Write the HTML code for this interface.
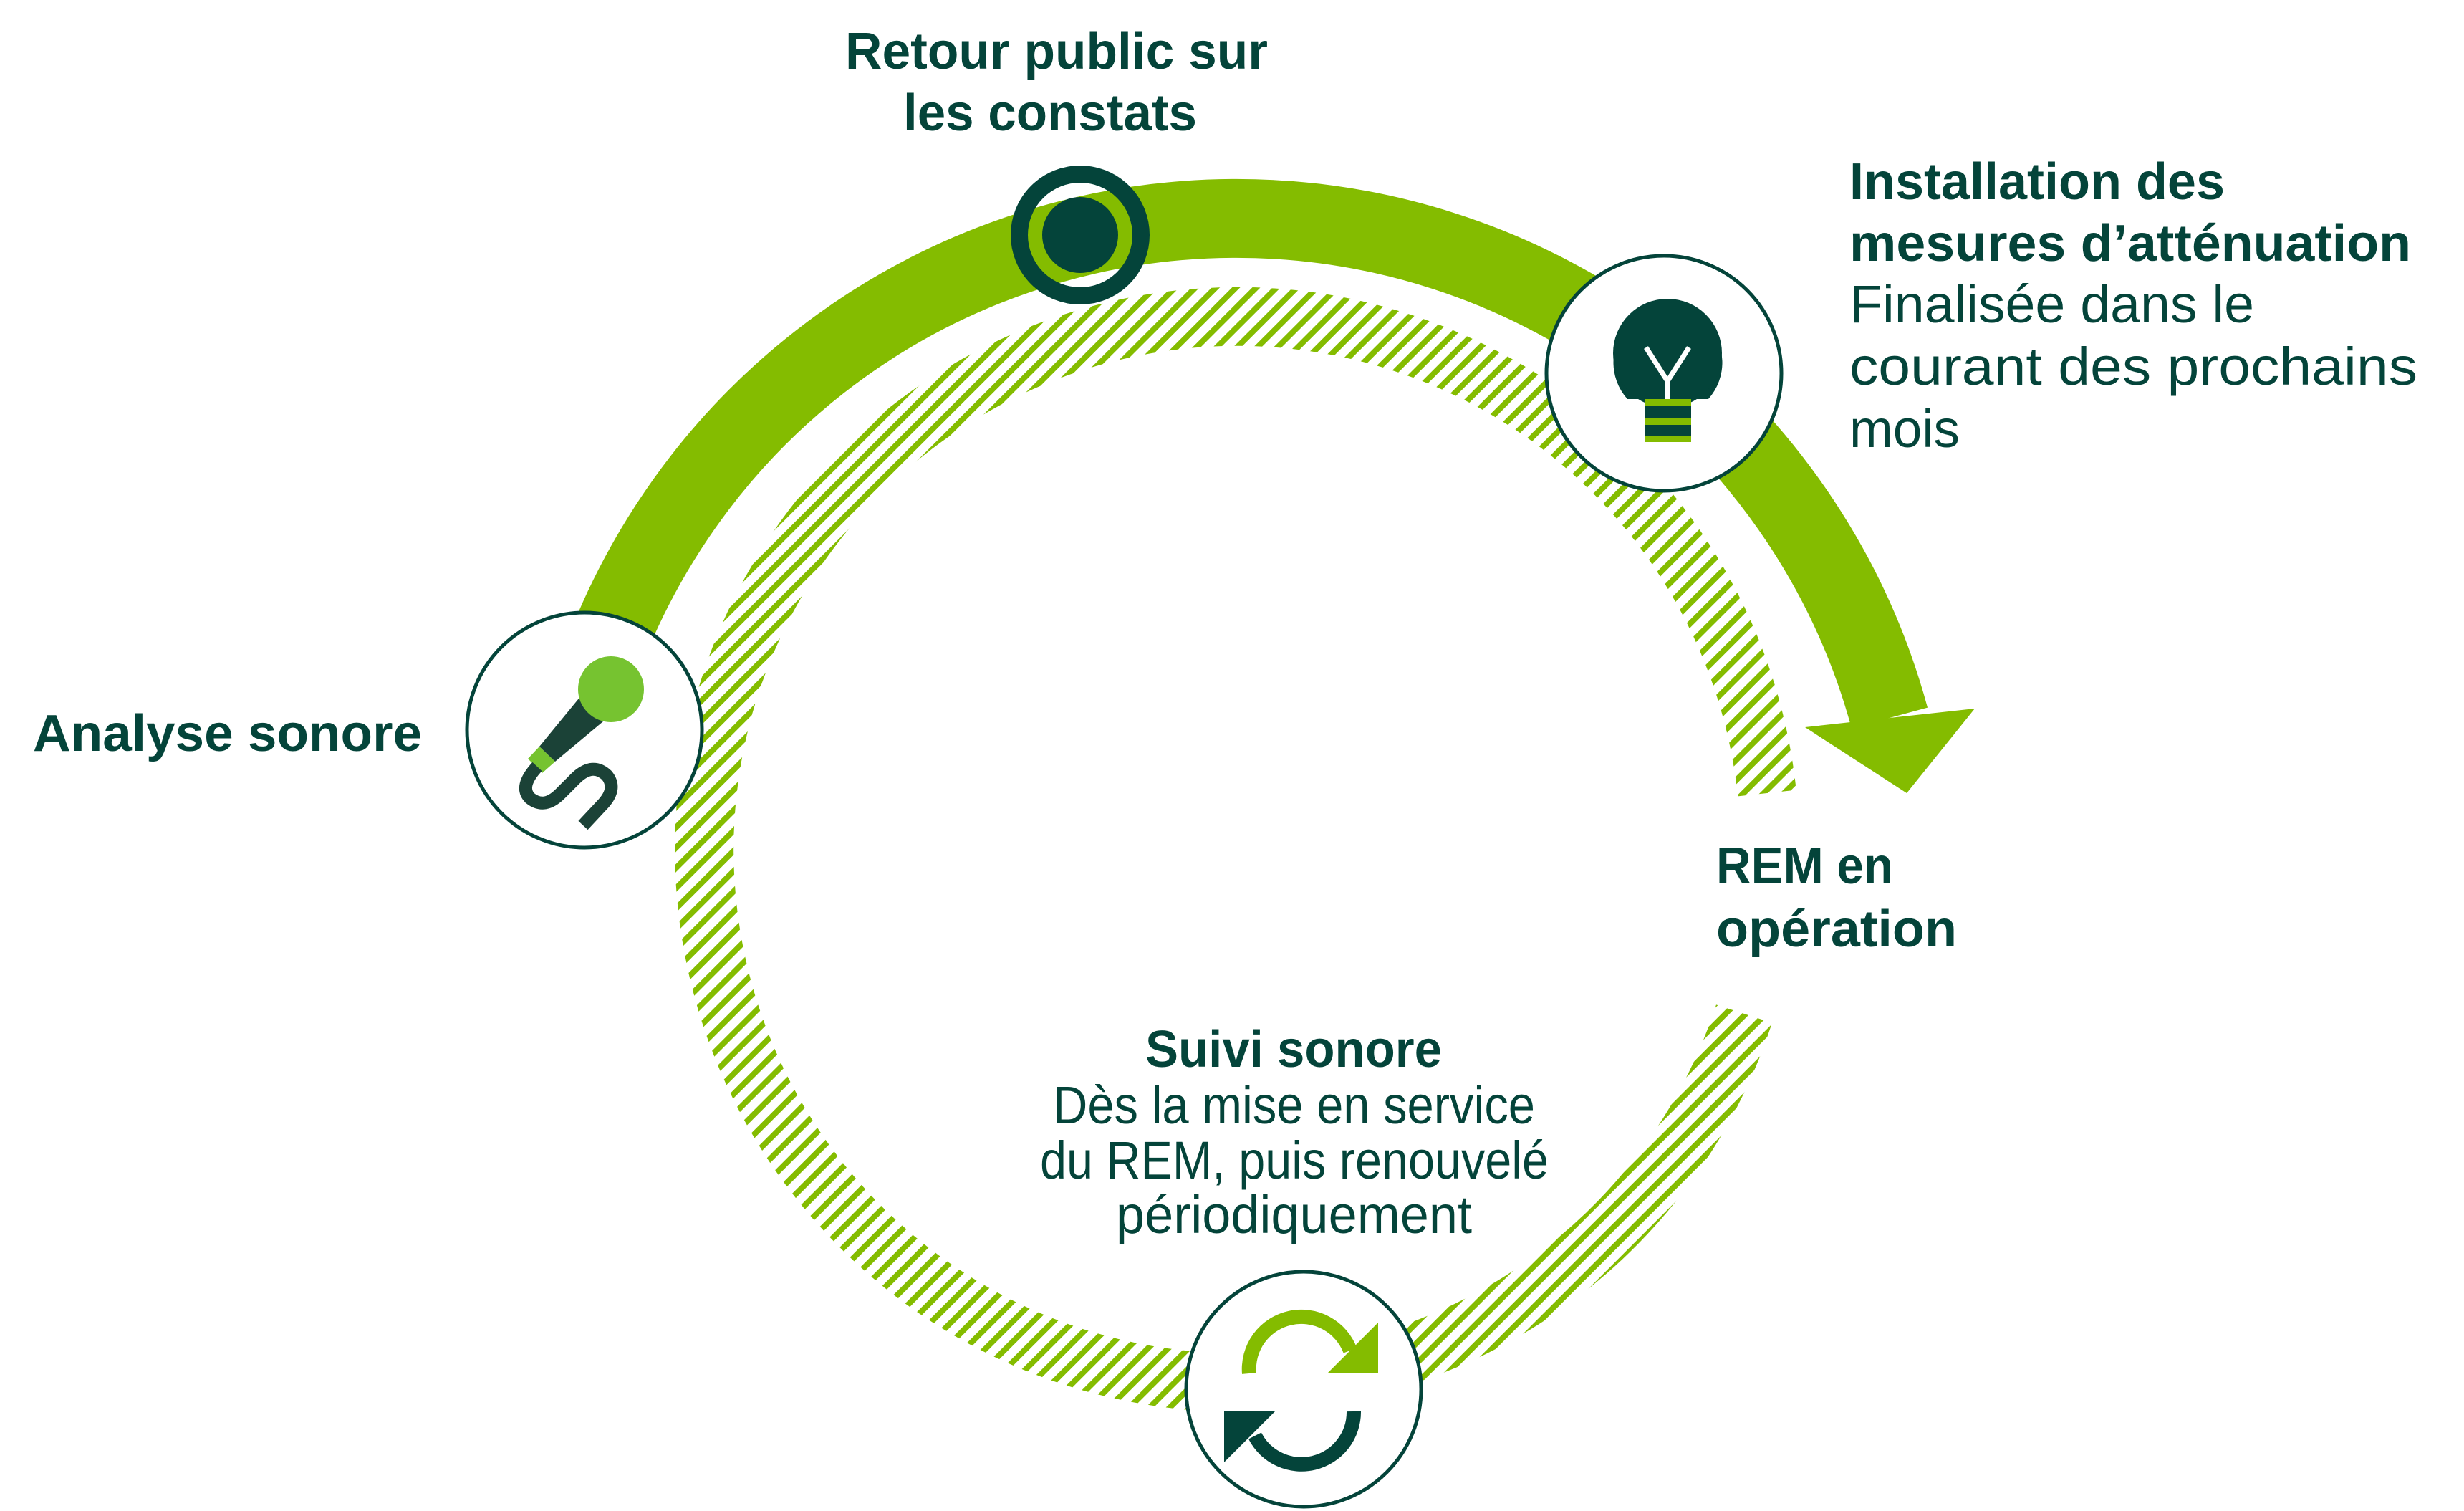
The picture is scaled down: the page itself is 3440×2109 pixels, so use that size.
<!DOCTYPE html>
<html><head><meta charset="utf-8"><style>
html,body{margin:0;padding:0;background:#fff;}
svg{display:block;}
.b{font-family:"Liberation Sans",sans-serif;font-weight:bold;font-size:72px;fill:#04443a;}
.n{font-family:"Liberation Sans",sans-serif;font-size:74px;fill:#04443a;}
</style></head><body>
<svg width="3440" height="2109" viewBox="0 0 3440 2109" xmlns="http://www.w3.org/2000/svg">
<defs>
<pattern id="h" width="20" height="20" patternUnits="userSpaceOnUse" patternTransform="rotate(-45)">
<rect x="0" y="0" width="20" height="8" fill="#84bc00"/>
</pattern>
</defs>
<!-- hatched ring -->
<path d="M 2435 1415 A 744 744 0 1 1 2467 1107" fill="none" stroke="url(#h)" stroke-width="82"/>
<!-- green arc -->
<path d="M 811 1014 A 945 945 0 0 1 2638 1002" fill="none" stroke="#84bc00" stroke-width="110"/>
<polygon points="2520,1015 2757,989 2662,1107" fill="#84bc00"/>

<!-- target -->
<circle cx="1508" cy="328" r="85" fill="none" stroke="#04443a" stroke-width="24"/>
<circle cx="1508" cy="328" r="53" fill="#04443a"/>

<!-- bulb -->
<circle cx="2323" cy="521" r="164" fill="#fff" stroke="#04443a" stroke-width="5"/>
<path d="M2272 557 A76 76 0 1 1 2385 557 Z" fill="#04443a"/>
<circle cx="2328" cy="493" r="76" fill="#04443a"/>
<rect x="2297" y="540" width="64" height="17" fill="#04443a"/>
<path d="M2298 485 L2328 532 L2358 485 M2328 532 L2328 557" fill="none" stroke="#fff" stroke-width="7"/>
<rect x="2297" y="557" width="64" height="10" fill="#84bc00"/>
<rect x="2297" y="567" width="64" height="16" fill="#04443a"/>
<rect x="2297" y="583" width="64" height="10" fill="#84bc00"/>
<rect x="2297" y="593" width="64" height="16" fill="#04443a"/>
<rect x="2297" y="609" width="64" height="8" fill="#84bc00"/>

<!-- mic -->
<circle cx="816" cy="1019" r="164" fill="#fff" stroke="#04443a" stroke-width="5"/>
<polygon points="808,975 842,1007 775,1063 753,1042" fill="#1b4237"/>
<polygon points="753,1042 775,1063 757,1079 737,1059" fill="#76c330"/>
<circle cx="853" cy="962" r="46" fill="#76c330"/>
<path d="M750 1070 Q724 1098 740 1114 Q760 1130 782 1108 L805 1085 Q828 1064 847 1082 Q862 1100 842 1122 L814 1152" fill="none" stroke="#1b4237" stroke-width="18"/>

<!-- refresh -->
<circle cx="1820" cy="1939" r="164" fill="#fff" stroke="#04443a" stroke-width="5"/>
<path d="M1744 1917 A73 73 0 0 1 1885 1885" fill="none" stroke="#84bc00" stroke-width="20"/>
<polygon points="1853,1917 1924,1917 1924,1846" fill="#84bc00"/>
<path d="M1890 1970 A73 73 0 0 1 1752 2004" fill="none" stroke="#04443a" stroke-width="20"/>
<polygon points="1709,1970 1780,1970 1709,2041" fill="#04443a"/>

<!-- texts -->
<text class="b" x="1180" y="96" textLength="590" lengthAdjust="spacingAndGlyphs">Retour public sur</text>
<text class="b" x="1261" y="182" textLength="410" lengthAdjust="spacingAndGlyphs">les constats</text>

<text class="b" x="2582" y="278" textLength="524" lengthAdjust="spacingAndGlyphs">Installation des</text>
<text class="b" x="2582" y="364" textLength="784" lengthAdjust="spacingAndGlyphs">mesures d’atténuation</text>
<text class="n" x="2582" y="450" textLength="565" lengthAdjust="spacingAndGlyphs">Finalisée dans le</text>
<text class="n" x="2582" y="537" textLength="793" lengthAdjust="spacingAndGlyphs">courant des prochains</text>
<text class="n" x="2582" y="624" textLength="154" lengthAdjust="spacingAndGlyphs">mois</text>

<text class="b" x="46" y="1048" textLength="543" lengthAdjust="spacingAndGlyphs">Analyse sonore</text>

<text class="b" x="2396" y="1233" textLength="247" lengthAdjust="spacingAndGlyphs">REM en</text>
<text class="b" x="2396" y="1321" textLength="336" lengthAdjust="spacingAndGlyphs">opération</text>

<text class="b" x="1599" y="1489" textLength="414" lengthAdjust="spacingAndGlyphs">Suivi sonore</text>
<text class="n" x="1470" y="1568" textLength="673" lengthAdjust="spacingAndGlyphs">Dès la mise en service</text>
<text class="n" x="1452" y="1645" textLength="710" lengthAdjust="spacingAndGlyphs">du REM, puis renouvelé</text>
<text class="n" x="1558" y="1721" textLength="497" lengthAdjust="spacingAndGlyphs">périodiquement</text>
</svg>
</body></html>
